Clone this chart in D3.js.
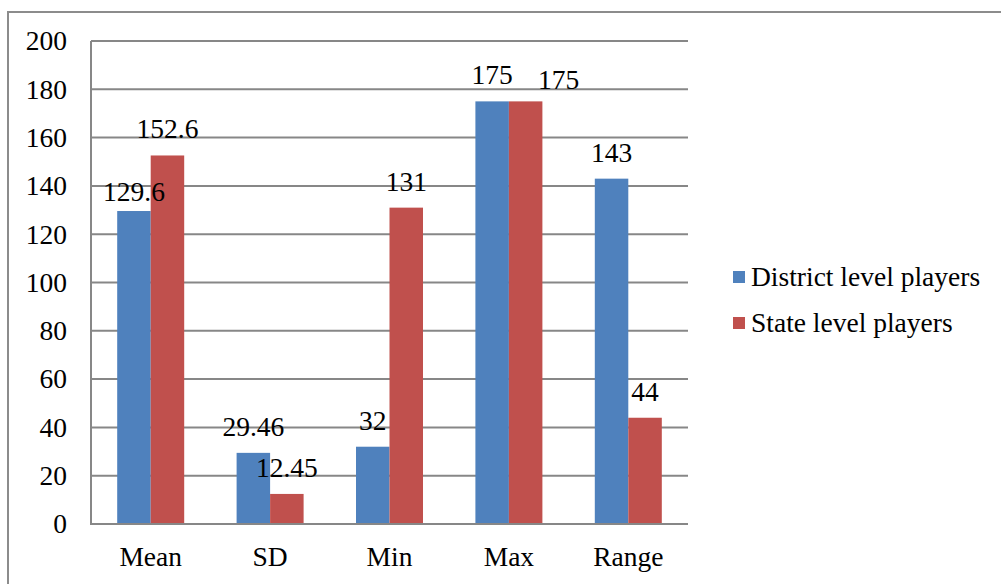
<!DOCTYPE html>
<html>
<head>
<meta charset="utf-8">
<script src="https://cdn.jsdelivr.net/npm/d3@7/dist/d3.min.js"></script>
<style>
  html, body { margin: 0; padding: 0; background: #fff; }
  svg { display: block; }
</style>
</head>
<body>
<svg id="chart" width="1001" height="584"></svg>
<script>
// Descriptive statistics for the two player groups
const categories = ["Mean", "SD", "Min", "Max", "Range"];
const seriesNames = ["District level players", "State level players"];
const districtValues = [129.6, 29.46, 32, 175, 143];
const stateValues = [152.6, 12.45, 131, 175, 44];
const districtLabels = ["129.6", "29.46", "32", "175", "143"];
const stateLabels = ["152.6", "12.45", "131", "175", "44"];
const yTicks = [0, 20, 40, 60, 80, 100, 120, 140, 160, 180, 200];

const colors = ["#4F81BD", "#C0504D"];
const gridColor = "#878787";
const fontSize = 27.5;
const fontFamily = "Liberation Serif";

const svg = d3.select("#chart");

// helper so every text element carries the serif face
const styleText = sel => sel
  .style("font-family", fontFamily)
  .attr("font-size", fontSize)
  .attr("fill", "#000");

// outer chart frame
svg.append("rect")
  .attr("x", 8).attr("y", 12)
  .attr("width", 1010).attr("height", 600)
  .attr("fill", "none")
  .attr("stroke", "#8c8c8c")
  .attr("stroke-width", 2);

const plot = { left: 91, right: 688, top: 41, bottom: 524 };

const x = d3.scaleBand()
  .domain(categories)
  .range([plot.left, plot.right])
  .paddingInner(0)
  .paddingOuter(0);

const barW = 33.5;

const y = d3.scaleLinear()
  .domain([0, 200])
  .range([plot.bottom, plot.top]);

// horizontal gridlines
svg.append("g")
  .selectAll("line")
  .data(yTicks)
  .join("line")
  .attr("x1", plot.left)
  .attr("x2", plot.right)
  .attr("y1", d => y(d))
  .attr("y2", d => y(d))
  .attr("stroke", gridColor)
  .attr("stroke-width", 2);

// y-axis line
svg.append("line")
  .attr("x1", plot.left).attr("x2", plot.left)
  .attr("y1", plot.top).attr("y2", plot.bottom)
  .attr("stroke", gridColor)
  .attr("stroke-width", 2);

// y tick labels
svg.append("g")
  .selectAll("text")
  .data(yTicks)
  .join("text")
  .attr("x", 67)
  .attr("y", d => y(d))
  .attr("dy", "0.34em")
  .attr("text-anchor", "end")
  .call(styleText)
  .text(d => d);

// bars
const series = [
  { name: seriesNames[0], values: districtValues, labels: districtLabels, color: colors[0], side: -1 },
  { name: seriesNames[1], values: stateValues, labels: stateLabels, color: colors[1], side: 0 }
];

const center = c => x(c) + x.bandwidth() / 2;

series.forEach(s => {
  svg.append("g")
    .selectAll("rect")
    .data(categories)
    .join("rect")
    .attr("x", (c) => center(c) + s.side * barW)
    .attr("y", (c, i) => y(s.values[i]))
    .attr("width", barW)
    .attr("height", (c, i) => y(0) - y(s.values[i]))
    .attr("fill", s.color);
});

// x-axis baseline over the bars
svg.append("line")
  .attr("x1", plot.left - 1).attr("x2", plot.right)
  .attr("y1", plot.bottom).attr("y2", plot.bottom)
  .attr("stroke", gridColor)
  .attr("stroke-width", 2);

// value labels; a few are nudged so neighbouring labels do not collide
const nudge = {
  "0-0": [0, 7],
  "1-3": [33, 5]
};
const off = (si, i) => nudge[si + "-" + i] || [0, 0];
series.forEach((s, si) => {
  svg.append("g")
    .selectAll("text")
    .data(categories)
    .join("text")
    .attr("x", (c, i) => center(c) + s.side * barW + barW / 2 + off(si, i)[0])
    .attr("y", (c, i) => y(s.values[i]) - 17 + off(si, i)[1])
    .attr("text-anchor", "middle")
    .call(styleText)
    .text((c, i) => s.labels[i]);
});

// category labels
svg.append("g")
  .selectAll("text")
  .data(categories)
  .join("text")
  .attr("x", c => center(c))
  .attr("y", 566)
  .attr("text-anchor", "middle")
  .call(styleText)
  .text(c => c);

// legend
const legend = svg.append("g");
series.forEach((s, i) => {
  const ly = 277 + i * 46;
  legend.append("rect")
    .attr("x", 733).attr("y", ly - 6)
    .attr("width", 12).attr("height", 12)
    .attr("fill", s.color);
  legend.append("text")
    .attr("x", 751).attr("y", ly)
    .attr("dy", "0.34em")
    .call(styleText)
    .text(s.name);
});
</script>
</body>
</html>
